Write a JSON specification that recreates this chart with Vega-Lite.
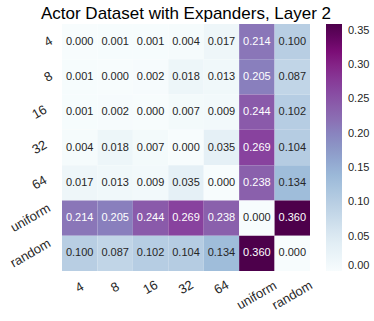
{
  "$schema": "https://vega.github.io/schema/vega-lite/v6.json",
  "width": 248,
  "height": 247,
  "autosize": {"type": "none"},
  "padding": {"left": 62, "top": 24, "right": 64, "bottom": 50},
  "background": "white",
  "config": {"view": {"stroke": null}, "font": "Liberation Sans"},
  "title": {"text": "Actor Dataset with Expanders, Layer 2", "fontSize": 17, "fontWeight": "normal", "color": "#000000", "anchor": "middle", "baseline": "alphabetic", "offset": 5, "dy": 17, "font": "Liberation Sans"},
  "data": {"values": [
    {"row": "4", "col": "4", "value": 0.000}, {"row": "4", "col": "8", "value": 0.001}, {"row": "4", "col": "16", "value": 0.001}, {"row": "4", "col": "32", "value": 0.004}, {"row": "4", "col": "64", "value": 0.017}, {"row": "4", "col": "uniform", "value": 0.214}, {"row": "4", "col": "random", "value": 0.100},
    {"row": "8", "col": "4", "value": 0.001}, {"row": "8", "col": "8", "value": 0.000}, {"row": "8", "col": "16", "value": 0.002}, {"row": "8", "col": "32", "value": 0.018}, {"row": "8", "col": "64", "value": 0.013}, {"row": "8", "col": "uniform", "value": 0.205}, {"row": "8", "col": "random", "value": 0.087},
    {"row": "16", "col": "4", "value": 0.001}, {"row": "16", "col": "8", "value": 0.002}, {"row": "16", "col": "16", "value": 0.000}, {"row": "16", "col": "32", "value": 0.007}, {"row": "16", "col": "64", "value": 0.009}, {"row": "16", "col": "uniform", "value": 0.244}, {"row": "16", "col": "random", "value": 0.102},
    {"row": "32", "col": "4", "value": 0.004}, {"row": "32", "col": "8", "value": 0.018}, {"row": "32", "col": "16", "value": 0.007}, {"row": "32", "col": "32", "value": 0.000}, {"row": "32", "col": "64", "value": 0.035}, {"row": "32", "col": "uniform", "value": 0.269}, {"row": "32", "col": "random", "value": 0.104},
    {"row": "64", "col": "4", "value": 0.017}, {"row": "64", "col": "8", "value": 0.013}, {"row": "64", "col": "16", "value": 0.009}, {"row": "64", "col": "32", "value": 0.035}, {"row": "64", "col": "64", "value": 0.000}, {"row": "64", "col": "uniform", "value": 0.238}, {"row": "64", "col": "random", "value": 0.134},
    {"row": "uniform", "col": "4", "value": 0.214}, {"row": "uniform", "col": "8", "value": 0.205}, {"row": "uniform", "col": "16", "value": 0.244}, {"row": "uniform", "col": "32", "value": 0.269}, {"row": "uniform", "col": "64", "value": 0.238}, {"row": "uniform", "col": "uniform", "value": 0.000}, {"row": "uniform", "col": "random", "value": 0.360},
    {"row": "random", "col": "4", "value": 0.100}, {"row": "random", "col": "8", "value": 0.087}, {"row": "random", "col": "16", "value": 0.102}, {"row": "random", "col": "32", "value": 0.104}, {"row": "random", "col": "64", "value": 0.134}, {"row": "random", "col": "uniform", "value": 0.360}, {"row": "random", "col": "random", "value": 0.000}
  ]},
  "encoding": {
    "x": {"field": "col", "type": "nominal", "sort": ["4", "8", "16", "32", "64", "uniform", "random"], "scale": {"paddingInner": 0, "paddingOuter": 0},
      "axis": {"title": null, "domain": false, "ticks": false, "labelAngle": -30, "labelAlign": "center", "labelBaseline": "middle", "labelFontSize": 13, "labelColor": "#262626", "labelFont": "Liberation Sans",
        "labelPadding": {"condition": {"test": "length(datum.label) > 2", "value": 24}, "value": 16}}},
    "y": {"field": "row", "type": "nominal", "sort": ["4", "8", "16", "32", "64", "uniform", "random"], "scale": {"paddingInner": 0, "paddingOuter": 0},
      "axis": {"title": null, "domain": false, "ticks": false, "labelAngle": -30, "labelAlign": "center", "labelBaseline": "middle", "labelFontSize": 13, "labelColor": "#262626", "labelFont": "Liberation Sans",
        "labelPadding": {"condition": [{"test": "length(datum.label) > 2", "value": 32}, {"test": "length(datum.label) == 2", "value": 23}], "value": 14}}}
  },
  "layer": [
    {"mark": {"type": "rect"},
     "encoding": {"color": {"field": "value", "type": "quantitative",
       "scale": {"domain": [0, 0.045, 0.09, 0.135, 0.18, 0.225, 0.27, 0.315, 0.36], "range": ["#f7fcfd", "#e0ecf4", "#bfd3e6", "#9ebcda", "#8c96c6", "#8c6bb1", "#88419d", "#810f7c", "#4d004b"]},
       "legend": {"title": null, "orient": "none", "legendX": 264, "legendY": 0, "direction": "vertical", "gradientLength": 247, "gradientThickness": 16, "values": [0, 0.05, 0.1, 0.15, 0.2, 0.25, 0.3, 0.35], "format": ".2f", "labelFontSize": 11, "labelColor": "#262626", "labelFont": "Liberation Sans", "labelOffset": 6, "labelOverlap": false, "labelBaseline": "middle", "gradientStrokeWidth": 0}}}},
    {"mark": {"type": "text", "fontSize": 11, "font": "Liberation Sans"},
     "encoding": {"text": {"field": "value", "type": "quantitative", "format": ".3f"},
       "color": {"condition": {"test": "datum.value > 0.18", "value": "#ffffff"}, "value": "#262626"}}}
  ]
}
